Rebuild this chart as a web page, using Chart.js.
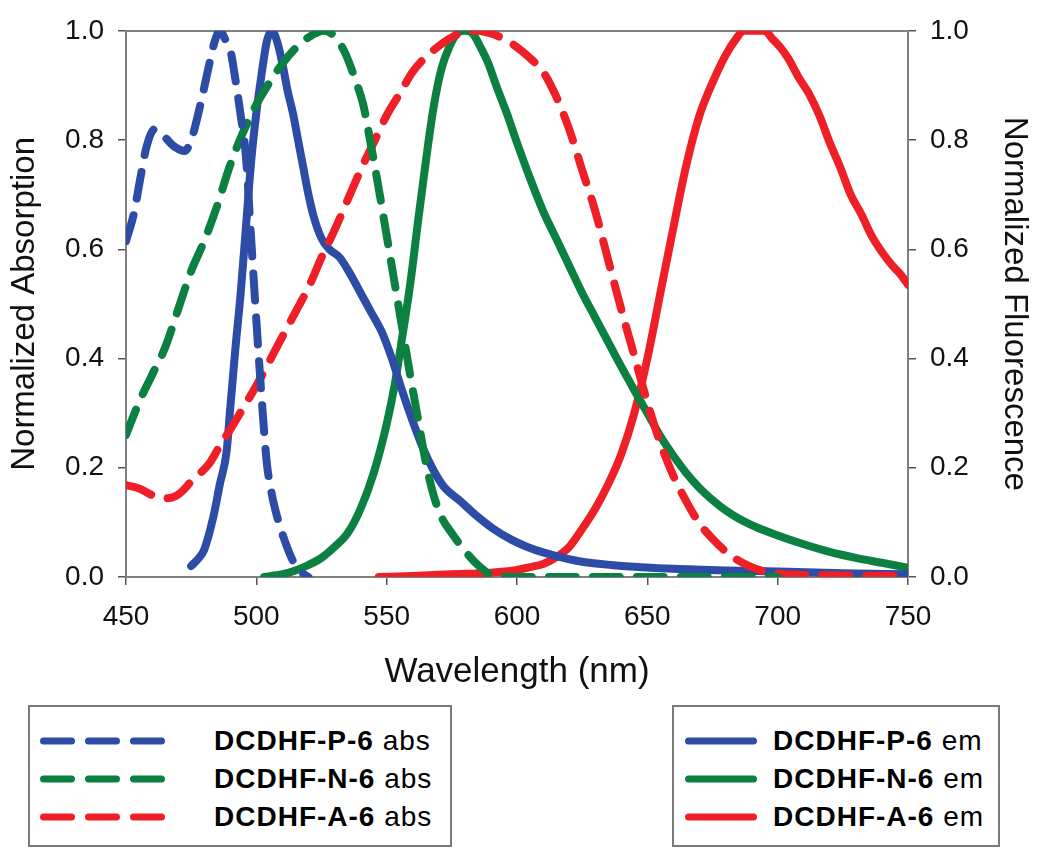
<!DOCTYPE html>
<html>
<head>
<meta charset="utf-8">
<script src="https://cdn.jsdelivr.net/npm/chart.js@4.4.0/dist/chart.umd.min.js"></script>
<style>
html,body{margin:0;padding:0;background:#fff;}
#wrap{position:relative;width:1050px;height:866px;overflow:hidden;}
#c{position:absolute;left:0;top:0;}
.lg{position:absolute;border:2px solid #7a7a7a;box-sizing:border-box;background:#fff;
    font-family:"Liberation Sans",Arial,Helvetica,sans-serif;color:#000;}
.row{position:absolute;left:0;right:0;height:38px;}
.row svg{position:absolute;top:13px;}
.row span.t{position:absolute;top:0;line-height:38px;font-size:28px;letter-spacing:1px;white-space:nowrap;}
.row b{font-weight:bold;}
</style>
</head>
<body>
<div id="wrap">
<canvas id="c" width="1050" height="866"></canvas>
<div id="lgAbs" class="lg" style="left:28px;top:705px;width:424px;height:142px;"></div>
<div id="lgEm" class="lg" style="left:672px;top:705px;width:328px;height:142px;"></div>
</div>
<script>
// ---- tick labels / categories ----
const wavelengthTicks = [450, 500, 550, 600, 650, 700, 750];
const normTicks = [0, 0.2, 0.4, 0.6, 0.8, 1.0];
const dyeNames = ['DCDHF-P-6', 'DCDHF-N-6', 'DCDHF-A-6'];
const absSuffix = 'abs';
const emSuffix = 'em';

// ---- DCDHF-P-6 absorption ----
const pAbsX = [450, 453, 455.5, 458, 461, 464, 468, 472.5, 475, 478.5, 482, 484, 486, 488, 490, 492, 494, 496, 498, 500, 502, 504, 506, 508, 511, 514, 517, 520];
const pAbsY = [0.615, 0.665, 0.73, 0.79, 0.82, 0.81, 0.79, 0.78, 0.80, 0.864, 0.94, 0.98, 1.0, 0.985, 0.965, 0.91, 0.845, 0.77, 0.62, 0.47, 0.33, 0.21, 0.15, 0.11, 0.065, 0.03, 0.01, 0.0];

// ---- DCDHF-N-6 absorption ----
const nAbsX = [450, 455, 460, 465, 470, 475, 480, 485, 490, 495, 500, 505, 510, 515, 520, 526, 530, 534, 538, 541, 544, 547, 550, 553, 556, 559, 562, 565, 568, 571, 575, 580, 585, 590, 600, 650, 700];
const nAbsY = [0.26, 0.32, 0.37, 0.42, 0.49, 0.56, 0.615, 0.68, 0.755, 0.815, 0.865, 0.905, 0.94, 0.968, 0.988, 1.0, 0.99, 0.96, 0.91, 0.865, 0.79, 0.71, 0.625, 0.54, 0.455, 0.37, 0.29, 0.21, 0.15, 0.11, 0.08, 0.048, 0.022, 0.005, 0.0, 0.0, 0.0];

// ---- DCDHF-A-6 absorption ----
const aAbsX = [450, 455, 460, 465, 469, 472, 475, 478, 482, 486, 490, 495, 500, 505, 510, 515, 520, 525, 530, 535, 540, 545, 550, 555, 560, 565, 570, 575, 580, 585, 590, 595, 600, 605, 610, 615, 620, 625, 630, 635, 640, 645, 650, 655, 660, 665, 670, 675, 680, 685, 690, 695, 700, 720, 745];
const aAbsY = [0.168, 0.162, 0.15, 0.144, 0.148, 0.159, 0.175, 0.188, 0.208, 0.24, 0.27, 0.31, 0.35, 0.395, 0.44, 0.485, 0.53, 0.585, 0.635, 0.69, 0.745, 0.795, 0.845, 0.885, 0.925, 0.952, 0.972, 0.988, 0.998, 1.0, 0.995, 0.985, 0.97, 0.95, 0.925, 0.88, 0.82, 0.745, 0.67, 0.58, 0.49, 0.405, 0.32, 0.245, 0.185, 0.138, 0.098, 0.07, 0.047, 0.03, 0.018, 0.01, 0.006, 0.003, 0.002];

// ---- DCDHF-P-6 emission ----
const pEmX = [475, 478, 480, 483.5, 486, 488.6, 490, 492, 494, 496, 498, 500, 502, 504, 506, 508, 510, 512, 514, 516, 518, 520, 522, 525, 528, 532, 536, 540, 544, 548, 552, 556, 560, 564, 568, 572, 578, 585, 591, 598, 604, 610, 617, 625, 636, 648, 660, 680, 700, 725, 750];
const pEmY = [0.02, 0.035, 0.05, 0.11, 0.17, 0.23, 0.31, 0.42, 0.52, 0.64, 0.76, 0.85, 0.92, 0.98, 1.0, 0.98, 0.94, 0.89, 0.85, 0.80, 0.75, 0.70, 0.66, 0.62, 0.60, 0.585, 0.555, 0.52, 0.485, 0.45, 0.40, 0.34, 0.285, 0.235, 0.195, 0.165, 0.14, 0.11, 0.088, 0.068, 0.055, 0.045, 0.036, 0.028, 0.022, 0.018, 0.015, 0.012, 0.01, 0.007, 0.005];

// ---- DCDHF-N-6 emission ----
const nEmX = [503, 510, 515, 520, 525, 530, 535, 540, 545, 550, 553, 556, 559, 562, 565, 568, 571, 574, 577, 580, 583, 586, 589, 592, 596, 600, 605, 610, 615, 620, 625, 630, 635, 640, 645, 650, 655, 660, 665, 670, 675, 680, 685, 690, 695, 700, 710, 720, 730, 740, 750];
const nEmY = [0.0, 0.005, 0.012, 0.022, 0.035, 0.055, 0.08, 0.125, 0.19, 0.28, 0.35, 0.44, 0.535, 0.65, 0.76, 0.86, 0.93, 0.97, 0.995, 1.0, 0.995, 0.97, 0.94, 0.9, 0.85, 0.795, 0.73, 0.67, 0.62, 0.57, 0.52, 0.475, 0.43, 0.385, 0.342, 0.30, 0.258, 0.222, 0.19, 0.163, 0.141, 0.122, 0.107, 0.095, 0.085, 0.076, 0.06, 0.046, 0.035, 0.026, 0.017];

// ---- DCDHF-A-6 emission ----
const aEmX = [547, 560, 575, 590, 600, 605, 610, 615, 620, 625, 630, 635, 640, 645, 650, 655, 660, 665, 670, 675, 680, 684, 687, 691, 695, 698, 701, 704, 708, 712, 716, 720, 724, 728, 732, 736, 740, 744, 747, 750];
const aEmY = [0.0, 0.002, 0.005, 0.008, 0.013, 0.018, 0.024, 0.036, 0.055, 0.088, 0.125, 0.17, 0.225, 0.3, 0.40, 0.52, 0.64, 0.755, 0.845, 0.905, 0.955, 0.985, 1.0, 1.0, 1.0, 0.985, 0.97, 0.95, 0.915, 0.885, 0.845, 0.795, 0.75, 0.70, 0.665, 0.625, 0.595, 0.57, 0.555, 0.535];

// ---- styling ----
const colors = ['#2c4ca6', '#0b8040', '#ee1f26'];
const FONT = '"Liberation Sans", Arial, Helvetica, sans-serif';
const DASH = [27, 17];

const pts = (xs, ys) => xs.map((x, i) => ({x: x, y: ys[i]}));
const absData = [pts(pAbsX, pAbsY), pts(nAbsX, nAbsY), pts(aAbsX, aAbsY)];
const emData = [pts(pEmX, pEmY), pts(nEmX, nEmY), pts(aEmX, aEmY)];

const common = {borderWidth: 8, pointRadius: 0, pointHoverRadius: 0, fill: false,
  cubicInterpolationMode: 'monotone', borderCapStyle: 'round', borderJoinStyle: 'round'};

const datasets = [];
dyeNames.forEach((n, i) => datasets.push(Object.assign({}, common, {
  label: n + ' ' + absSuffix, data: absData[i], borderColor: colors[i],
  borderDash: DASH, yAxisID: 'yL', _name: n, _suffix: absSuffix, _group: 'abs'})));
dyeNames.forEach((n, i) => datasets.push(Object.assign({}, common, {
  label: n + ' ' + emSuffix, data: emData[i], borderColor: colors[i],
  borderDash: [], yAxisID: 'yR', _name: n, _suffix: emSuffix, _group: 'em'})));

const tickGrid = {drawOnChartArea: false, drawTicks: true, tickLength: 8, color: '#555', lineWidth: 1.5};
const axisBorder = {display: true, color: '#808080', width: 2};
const tickFont = {family: FONT, size: 28};

const chart = new Chart(document.getElementById('c'), {
  type: 'line',
  data: {datasets: datasets},
  options: {
    responsive: false, animation: false, events: [],
    layout: {padding: {top: 29, left: 0, right: 0, bottom: 166}},
    plugins: {legend: {display: false}, tooltip: {enabled: false}},
    scales: {
      x: {type: 'linear', position: 'bottom', min: 450, max: 750,
        afterBuildTicks: s => { s.ticks = wavelengthTicks.map(v => ({value: v})); },
        ticks: {font: tickFont, color: '#111', padding: 15, maxRotation: 0, autoSkip: false},
        grid: tickGrid, border: axisBorder,
        title: {display: true, text: 'Wavelength (nm)', color: '#111',
          font: {family: FONT, size: 35}, padding: {top: 0, bottom: 7}},
        afterFit: s => { s.height = 123; }
      },
      xTop: {type: 'linear', position: 'top', min: 450, max: 750,
        ticks: {display: false}, grid: {display: false}, border: axisBorder,
        afterFit: s => { s.height = 0; }
      },
      yL: {type: 'linear', position: 'left', min: 0, max: 1,
        afterBuildTicks: s => { s.ticks = normTicks.map(v => ({value: v})); },
        ticks: {font: tickFont, color: '#111', padding: 14, callback: v => Number(v).toFixed(1)},
        grid: tickGrid, border: axisBorder,
        title: {display: true, text: 'Normalized Absorption', color: '#111',
          font: {family: FONT, size: 33}, padding: {top: 5, bottom: 0}},
        afterFit: s => { s.width = 126; }
      },
      yR: {type: 'linear', position: 'right', min: 0, max: 1,
        afterBuildTicks: s => { s.ticks = normTicks.map(v => ({value: v})); },
        ticks: {font: tickFont, color: '#111', padding: 14, callback: v => Number(v).toFixed(1)},
        grid: tickGrid, border: axisBorder,
        title: {display: true, text: 'Normalized Fluorescence', color: '#111',
          font: {family: FONT, size: 33}, padding: {top: 16, bottom: 0}},
        afterFit: s => { s.width = 142; }
      }
    }
  }
});

// ---- HTML legends built from the chart's datasets ----
function buildLegend(el, group, lineLeft, lineLen, textLeft) {
  const ds = chart.data.datasets.filter(d => d._group === group);
  ds.forEach((d, i) => {
    const row = document.createElement('div');
    row.className = 'row';
    row.style.top = (15 + i * 38) + 'px';
    const dashed = d.borderDash && d.borderDash.length;
    const w = 7;
    const cap = w / 2;
    const svg = '<svg width="' + (lineLen) + '" height="12" style="left:' + lineLeft + 'px">' +
      '<line x1="' + cap + '" y1="6" x2="' + (lineLen - cap) + '" y2="6" stroke="' + d.borderColor +
      '" stroke-width="' + w + '" stroke-linecap="round"' +
      (dashed ? ' stroke-dasharray="28 17"' : '') + '/></svg>';
    row.innerHTML = svg + '<span class="t" style="left:' + textLeft + 'px"><b>' + d._name + '</b> ' + d._suffix + '</span>';
    el.appendChild(row);
  });
}
buildLegend(document.getElementById('lgAbs'), 'abs', 10, 125, 184);
buildLegend(document.getElementById('lgEm'), 'em', 11, 72, 99);
</script>
</body>
</html>
